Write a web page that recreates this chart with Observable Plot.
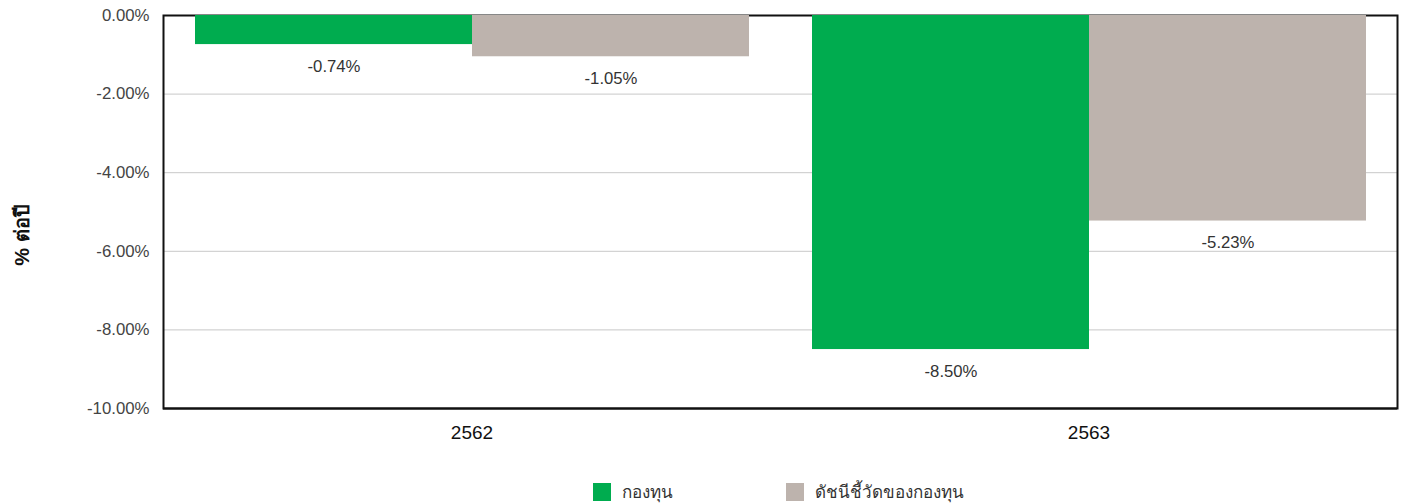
<!DOCTYPE html>
<html>
<head>
<meta charset="utf-8">
<script src="https://cdn.jsdelivr.net/npm/d3@7"></script>
<script src="https://cdn.jsdelivr.net/npm/@observablehq/plot@0.6"></script>
<style>
  body { margin: 0; background: #fff; font-family: "Liberation Sans", Arial, sans-serif; }
  #chart { position: relative; width: 1402px; }
  .legend { display: flex; margin-top: 13px; margin-left: 593px; font-size: 17px; color: #333; }
  .legend .item { display: flex; align-items: center; }
  .legend .sw { width: 18px; height: 18px; margin-right: 11px; }
</style>
</head>
<body>
<div id="chart"></div>
<script>
const years = ["2562", "2563"];
const seriesNames = ["กองทุน", "ดัชนีชี้วัดของกองทุน"];
const fundValues = [-0.74, -8.50];
const indexValues = [-1.05, -5.23];
const yTicks = [0, -2, -4, -6, -8, -10];
const colors = ["#00AC4F", "#BDB3AD"];
const yTitle = "% ต่อปี";

const data = [];
years.forEach((yr, i) => {
  data.push({year: yr, series: seriesNames[0], value: fundValues[i]});
  data.push({year: yr, series: seriesNames[1], value: indexValues[i]});
});

const fmt = v => v.toFixed(2) + "%";

const plot = Plot.plot({
  width: 1402,
  height: 465,
  marginLeft: 163,
  marginRight: 5,
  marginTop: 15,
  marginBottom: 57,
  style: {fontFamily: "'Liberation Sans', Arial, sans-serif", background: "#fff"},
  fx: {domain: years, padding: 0, label: null},
  x: {domain: seriesNames, paddingInner: 0, paddingOuter: 0.11, axis: null},
  y: {domain: [-10, 0], ticks: yTicks, label: null},
  color: {domain: seriesNames, range: colors},
  marks: [
    Plot.gridY(yTicks, {stroke: "#c8c8c8", strokeOpacity: 1, strokeWidth: 1}),
    Plot.frame({facet: "super", stroke: "#111", strokeWidth: 2}),
    Plot.barY(data, {fx: "year", x: "series", y1: 0, y2: "value", fill: "series"}),
    Plot.ruleY([-10], {stroke: "#111", strokeWidth: 2}),
    Plot.text(data, {fx: "year", x: "series", y: "value", text: d => fmt(d.value), dy: 22, fontSize: 16.7, fill: "#333"}),
    Plot.axisY(yTicks, {tickSize: 0, tickPadding: 14, tickFormat: fmt, fontSize: 16.8, color: "#444", label: null}),
    Plot.axisFx({anchor: "bottom", tickSize: 0, tickPadding: 17, fontSize: 19, color: "#111", label: null}),
    Plot.text([yTitle], {facet: "super", frameAnchor: "left", textAnchor: "middle", text: d => d, rotate: -90, dx: -141, dy: 23, fontSize: 20, fontWeight: "bold", fill: "#111"})
  ]
});

const chart = document.getElementById("chart");
chart.appendChild(plot);

const legend = document.createElement("div");
legend.className = "legend";
seriesNames.forEach((name, i) => {
  const item = document.createElement("div");
  item.className = "item";
  if (i === 0) item.style.width = "193px";
  const sw = document.createElement("div");
  sw.className = "sw";
  sw.style.background = colors[i];
  const label = document.createElement("span");
  label.textContent = name;
  item.appendChild(sw);
  item.appendChild(label);
  legend.appendChild(item);
});
chart.appendChild(legend);
</script>
</body>
</html>
